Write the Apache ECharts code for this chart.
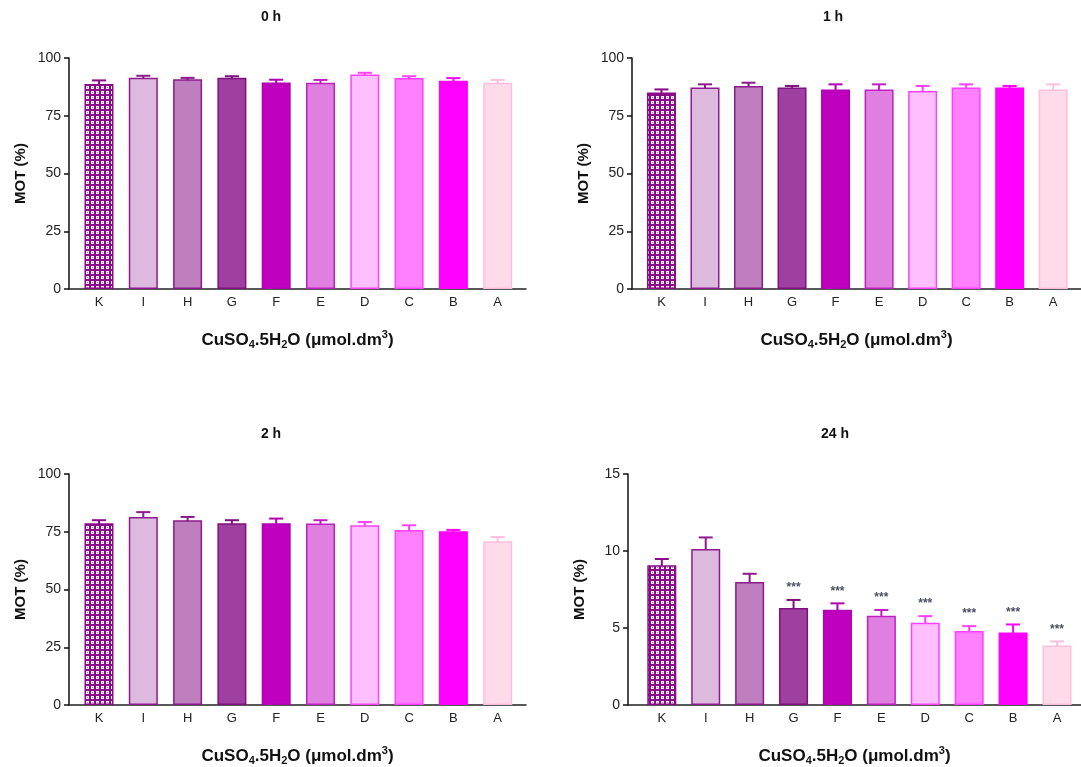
<!DOCTYPE html>
<html>
<head>
<meta charset="utf-8">
<script src="https://cdn.jsdelivr.net/npm/echarts@6/dist/echarts.min.js"></script>
<style>html,body{margin:0;padding:0;background:#fff}#c{width:1081px;height:767px}</style>
</head>
<body>
<div id="c"></div>
<script>
const categories = ['K','I','H','G','F','E','D','C','B','A'];
const panelTitles = ['0 h','1 h','2 h','24 h'];
const mean0h = [88.7, 91.5, 90.8, 91.5, 89.4, 89.3, 92.9, 91.3, 90.2, 89.3];
const err0h  = [1.6, 0.8, 0.6, 0.6, 1.2, 1.2, 0.7, 0.8, 1.1, 1.2];
const mean1h = [85.1, 87.2, 87.9, 87.2, 86.4, 86.4, 85.7, 87.2, 87.2, 86.4];
const err1h  = [1.3, 1.4, 1.4, 0.7, 2.2, 2.2, 2.2, 1.4, 0.7, 2.2];
const mean2h = [78.7, 81.4, 80.0, 78.7, 78.7, 78.6, 77.8, 75.8, 75.2, 70.9];
const err2h  = [1.3, 2.1, 1.4, 1.3, 2.0, 1.4, 1.4, 2.0, 0.6, 1.8];
const mean24h = [9.08, 10.13, 7.98, 6.30, 6.19, 5.79, 5.34, 4.80, 4.71, 3.87];
const err24h  = [0.40, 0.75, 0.54, 0.52, 0.41, 0.38, 0.43, 0.32, 0.52, 0.26];
const stars24h = ['', '', '', '***', '***', '***', '***', '***', '***', '***'];
const yMax = [100, 100, 100, 15];
const yInterval = [25, 25, 25, 5];

const fills   = [null, '#ddbadd', '#bf7fbf', '#9f3f9f', '#bf00bf', '#df7fdf', '#ffbfff', '#ff7fff', '#ff00ff', '#ffdbea'];
const borders = ['#8a0a8a', '#8f1a8f', '#8a1a8a', '#7f107f', '#b000b0', '#c020c0', '#ff40ff', '#ff40ff', '#ff00ff', '#ffbedd'];

// checker pattern for K
const pc = document.createElement('canvas');
pc.width = 5; pc.height = 5;
const g = pc.getContext('2d');
g.fillStyle = '#8b0a8b'; g.fillRect(0,0,5,5);
g.fillStyle = '#ffffff';
g.fillRect(1,1,3,3);
g.fillStyle = '#c070c0';
g.fillRect(2,2,1,1);
g.fillStyle = '#f0dcf0';
g.fillRect(1,1,1,1); g.fillRect(3,3,1,1);
const pattern = {image: pc, repeat: 'repeat'};

const means = [mean0h, mean1h, mean2h, mean24h];
const errs = [err0h, err1h, err2h, err24h];
const stars = [null, null, null, stars24h];

const FONT = 'Liberation Sans, Arial, sans-serif';
const gridsPos = [
  {left: 69, top: 58, width: 457, height: 231, xmin: -0.677},
  {left: 632, top: 58, width: 457, height: 231, xmin: -0.677},
  {left: 69, top: 474, width: 457, height: 231, xmin: -0.677},
  {left: 628, top: 474, width: 457, height: 231, xmin: -0.77}
];
const titlePos = [{x: 266, y: 5}, {x: 828, y: 5}, {x: 266, y: 422}, {x: 830, y: 422}];

const option = {
  animation: false,
  backgroundColor: '#fff',
  textStyle: {fontFamily: FONT},
  title: panelTitles.map((t, i) => ({
    text: t, left: titlePos[i].x, top: titlePos[i].y, textAlign: 'center',
    textStyle: {fontSize: 14, fontWeight: 'bold', color: '#111', fontFamily: FONT}
  })),
  grid: gridsPos.map(p => ({left: p.left, top: p.top, width: p.width, height: p.height, containLabel: false})),
  xAxis: gridsPos.map((p, i) => ({
    type: 'value', gridIndex: i,
    min: p.xmin, max: p.xmin + p.width / 44.3,
    axisLine: {show: true, onZero: false, lineStyle: {color: '#222', width: 1.5}},
    axisTick: {show: false},
    splitLine: {show: false},
    axisLabel: {
      customValues: categories.map((c, k) => k),
      formatter: v => categories[Math.round(v)] || '',
      fontSize: 13, color: '#222', margin: 7, fontFamily: FONT
    },
    name: 'CuSO{sub|4}.5H{sub|2}O (μmol.dm{sup|3})',
    nameLocation: 'middle', nameGap: 40,
    nameTextStyle: {
      fontSize: 17, fontWeight: 'bold', color: '#111', fontFamily: FONT,
      rich: {
        sub: {fontSize: 11, fontWeight: 'bold', color: '#111', padding: [8, 0, 0, 0]},
        sup: {fontSize: 11, fontWeight: 'bold', color: '#111', padding: [0, 0, 12, 0]}
      }
    }
  })),
  yAxis: gridsPos.map((p, i) => ({
    type: 'value', gridIndex: i, min: 0, max: yMax[i], interval: yInterval[i],
    axisLine: {show: true, onZero: false, lineStyle: {color: '#111', width: 1.5}},
    axisTick: {show: true, length: 5, lineStyle: {color: '#111', width: 1.5}},
    splitLine: {show: false},
    axisLabel: {fontSize: 14, color: '#222', margin: 8, fontFamily: FONT},
    name: 'MOT (%)', nameLocation: 'middle', nameGap: 41,
    nameTextStyle: {fontSize: 15, fontWeight: 'bold', color: '#111', fontFamily: FONT}
  })),
  series: []
};

for (let i = 0; i < 4; i++) {
  option.series.push({
    type: 'bar', xAxisIndex: i, yAxisIndex: i, barWidth: 29,
    data: means[i].map((v, k) => ({
      value: [k, v],
      itemStyle: {color: k === 0 ? pattern : fills[k], borderColor: borders[k], borderWidth: 1.5}
    })),
    z: 2
  });
  option.series.push({
    type: 'custom', xAxisIndex: i, yAxisIndex: i, z: 3,
    data: means[i].map((v, k) => [k, v, errs[i][k]]),
    renderItem: function (params, api) {
      const k = api.value(0);
      const m = api.value(1);
      const e = api.value(2);
      const p0 = api.coord([k, m]);
      const p1 = api.coord([k, m + e]);
      const col = borders[k];
      const children = [
        {type: 'line', shape: {x1: p0[0], y1: p0[1] + 1, x2: p1[0], y2: p1[1]}, style: {stroke: col, lineWidth: 2}},
        {type: 'line', shape: {x1: p1[0] - 7, y1: p1[1], x2: p1[0] + 7, y2: p1[1]}, style: {stroke: col, lineWidth: 2}}
      ];
      const st = stars[i] ? stars[i][k] : '';
      if (st) {
        children.push({type: 'text', x: p1[0], y: p1[1] - 6, style: {text: st, fill: '#4a5060', font: 'bold 12px ' + FONT, align: 'center', verticalAlign: 'bottom'}});
      }
      return {type: 'group', children: children};
    }
  });
}

const chart = echarts.init(document.getElementById('c'));
chart.setOption(option);
</script>
</body>
</html>
